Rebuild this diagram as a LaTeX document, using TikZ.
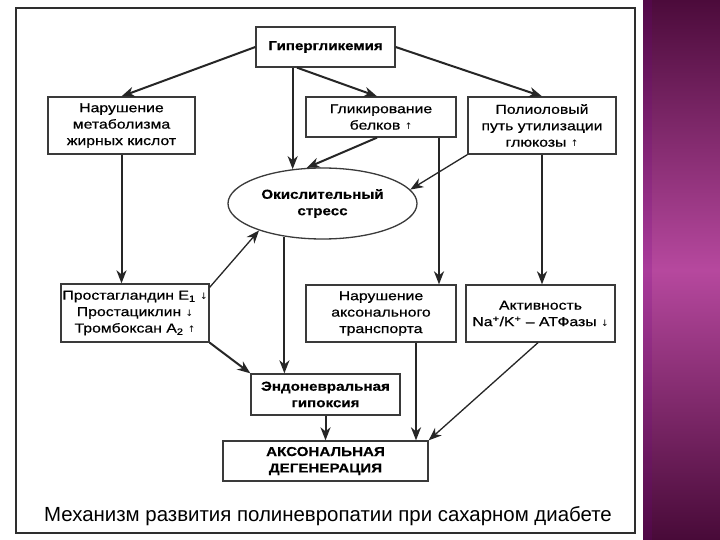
\documentclass[tikz,border=0pt]{standalone}
\usepackage{fontspec}
\setmainfont{Liberation Sans}[UprightFeatures={FakeStretch=1.22, FakeBold=0.6}, BoldFeatures={FakeStretch=1.17, FakeBold=0.4}]
\newfontfamily\capfont{Liberation Sans}
\newfontfamily\arrfont{DejaVu Sans}
\usetikzlibrary{arrows.meta,shapes.geometric}
\newcommand{\uparr}{{\arrfont\fontsize{9}{9}\selectfont ↑}}
\newcommand{\dnarr}{{\arrfont\fontsize{9}{9}\selectfont ↓}}
\definecolor{frameclr}{HTML}{2E2E2E}
\definecolor{boxclr}{HTML}{3A3A3A}
\definecolor{purpletop}{HTML}{4C0B3B}
\definecolor{purplemid}{HTML}{B6489E}
\definecolor{purplebot}{HTML}{480A38}
\begin{document}
\begin{tikzpicture}[x=1bp,y=-1bp,
  box/.style={draw=boxclr, line width=1.3bp, fill=white, align=center, inner sep=0pt,
    font=\fontsize{13}{16.5}\selectfont},
  arr/.style={-{Stealth[length=13bp,width=10bp,inset=4bp]}, line width=2bp, draw=black!85},
  thinarr/.style={arr, line width=1.3bp}
]
\useasboundingbox (0,0) rectangle (720,540);
\fill[white] (0,0) rectangle (720,540);
% purple side bar
\shade[top color=purpletop, bottom color=purplebot, middle color=purplemid] (643,0) rectangle (720,540);
\fill[blue!40!purple, opacity=0.18] (643,0) rectangle (652,540);
% frame
\draw[frameclr, line width=1.8bp] (16,8) rectangle (635,533);

% nodes
\node[box, minimum width=139bp, minimum height=40bp] (hyp) at (325.5,47) {\textbf{Гипергликемия}};
\node[box, minimum width=147bp, minimum height=57bp] (fat) at (121.5,125.5) {Нарушение\\метаболизма\\жирных кислот};
\node[box, minimum width=150bp, minimum height=40bp] (glyc) at (381,117) {Гликирование\\белков \uparr};
\node[box, minimum width=148bp, minimum height=57bp] (poly) at (542,125.5) {Полиоловый\\путь утилизации\\глюкозы \uparr};
\node[box, ellipse, minimum width=189bp, minimum height=71bp] (ox) at (322.5,203.5) {\textbf{Окислительный}\\\textbf{стресс}};
\node[box, minimum width=148bp, minimum height=58bp] (pg) at (135,313) {Простагландин Е\textsubscript{1} \dnarr\\Простациклин \dnarr\\Тромбоксан А\textsubscript{2} \uparr};
\node[box, minimum width=150bp, minimum height=57bp] (axt) at (381,313.5) {Нарушение\\аксонального\\транспорта};
\node[box, minimum width=149bp, minimum height=57bp] (atp) at (540.5,313.5) {Активность\\Na\textsuperscript{+}/K\textsuperscript{+} – АТФазы \dnarr};
\node[box, minimum width=149bp, minimum height=41bp] (hypox) at (325.5,394.5) {\textbf{Эндоневральная}\\\textbf{гипоксия}};
\node[box, minimum width=205bp, minimum height=40bp] (deg) at (325.5,461) {\textbf{АКСОНАЛЬНАЯ}\\\textbf{ДЕГЕНЕРАЦИЯ}};
\node[font=\capfont\fontsize{20.5}{24}\selectfont, inner sep=0pt] (cap) at (328,516) {Механизм развития полиневропатии при сахарном диабете};

% connectors
\draw[arr] (hyp.west) -- (fat.north);
\draw[arr] (hyp.south -| ox.131) -- (ox.131);
\draw[arr] ([xshift=-28.5bp]hyp.south) -- ([xshift=-4bp]glyc.north);
\draw[arr] (hyp.east) -- (poly.north);
\draw[arr] ([xshift=-4bp]glyc.south) -- (ox.114);
\draw[thinarr] (poly.south west) -- (ox.9);
\draw[arr] ([xshift=58bp]glyc.south) -- ([xshift=58bp]axt.north);
\draw[arr] (poly.south) -- (poly.south |- atp.north);
\draw[arr] (fat.south) -- (fat.south |- pg.north);
\draw[thinarr] ([yshift=-4bp]pg.north east) -- (ox.203);
\draw[arr] (pg.south east) -- (hypox.north west);
\draw[arr] (ox.221) -- (ox.221 |- hypox.north);
\draw[arr] (hypox.south) -- (deg.north);
\draw[arr] ([xshift=35bp]axt.south) -- ([xshift=35bp]axt.south |- deg.north);
\draw[thinarr] ([xshift=-2.5bp]atp.south) -- (deg.north east);
\end{tikzpicture}
\end{document}
